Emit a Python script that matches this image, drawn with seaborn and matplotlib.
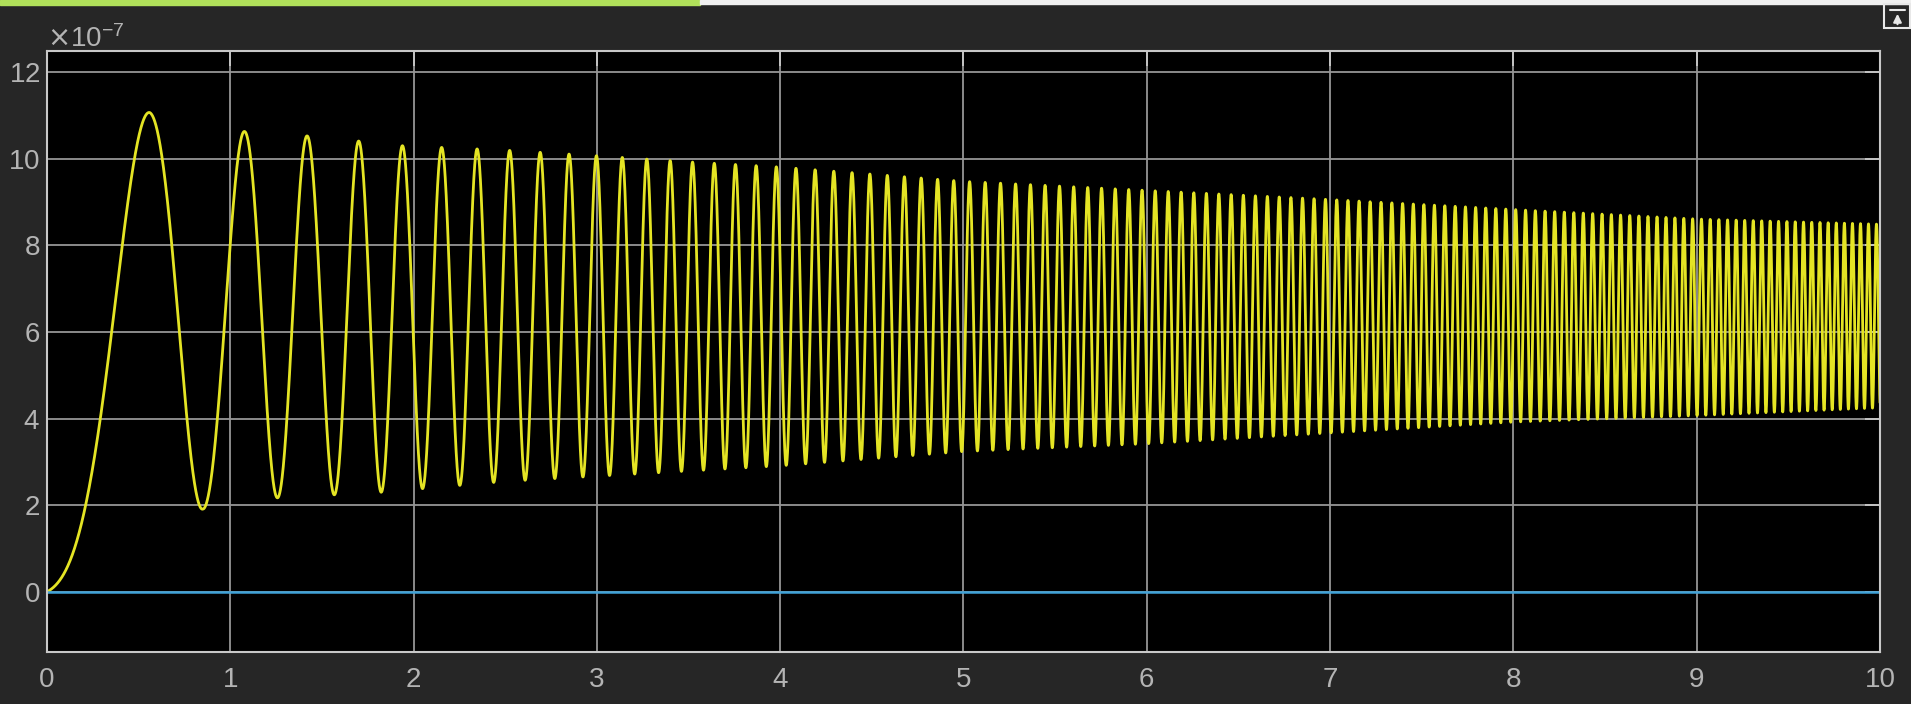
import numpy as np
import pandas as pd
import seaborn as sns
import matplotlib.pyplot as plt
from matplotlib.patches import Rectangle
from matplotlib.lines import Line2D

# values, in units of 1e-7
# local oscillation frequency (cycles per second) at read positions
freq_t = [0.0, 0.56, 0.71, 0.97, 1.17, 1.34, 1.49, 1.63, 1.76, 2.05, 2.44, 2.92, 3.46, 3.93, 5.5, 7.5, 8.5, 9.5, 10.0]
freq_hz = [0.4, 1.4, 1.73, 2.18, 2.82, 3.1, 3.33, 3.76, 4.07, 4.67, 5.65, 6.67, 8.2, 9.09, 12.75, 17.35, 19.7, 22.0, 23.1]

# peaks (upper envelope) and troughs (lower envelope)
upper_t = [0.561, 1.079, 1.417, 1.700, 1.945, 2.5, 3.0, 3.5, 4.0, 5.0, 6.0, 7.0, 8.0, 9.0, 10.0]
upper_v = [11.07, 10.63, 10.53, 10.41, 10.30, 10.2, 10.07, 9.93, 9.81, 9.48, 9.27, 9.06, 8.83, 8.61, 8.49]
lower_t = [0.0, 0.850, 1.256, 1.567, 1.823, 2.5, 3.0, 3.5, 4.0, 5.0, 6.0, 7.0, 8.0, 9.0, 10.0]
lower_v = [0.0, 1.91, 2.17, 2.24, 2.30, 2.55, 2.67, 2.79, 2.91, 3.24, 3.42, 3.67, 3.92, 4.07, 4.25]

# second signal (blue) stays at zero
ref_t = [0.0, 10.0]
ref_v = [0.0, 0.0]

x_ticks = [0, 1, 2, 3, 4, 5, 6, 7, 8, 9, 10]
y_ticks = [0, 2, 4, 6, 8, 10, 12]
SCALE = 1e-7

# rebuild the trace between the read peaks/troughs
t = np.linspace(0, 10, 20001)
f = np.interp(t, freq_t, freq_hz)
cyc = np.concatenate([[0], np.cumsum((f[1:] + f[:-1]) / 2 * np.diff(t))])
hi = np.interp(t, upper_t, upper_v)
lo = np.interp(t, lower_t, lower_v)
y = lo + (hi - lo) * (1 - np.cos(2 * np.pi * cyc)) / 2

df = pd.DataFrame({"t": t, "y": y * SCALE})
ref = pd.DataFrame({"t": ref_t, "y": np.array(ref_v) * SCALE})

bg = "#262626"
txt = "#b4b4b4"
sns.set_style("dark", {"axes.facecolor": "black", "figure.facecolor": bg})
plt.rcParams["font.family"] = ["Liberation Sans", "DejaVu Sans"]
plt.rcParams["axes.unicode_minus"] = False

fig = plt.figure(figsize=(19.11, 7.04), dpi=100)
ax = fig.add_axes([47 / 1911, 1 - 652 / 704, 1833 / 1911, 601 / 704])

sns.lineplot(data=df, x="t", y="y", ax=ax, color="#e4e424", linewidth=2.0,
             estimator=None, sort=False)
sns.lineplot(data=ref, x="t", y="y", ax=ax, color="#3fa2d8", linewidth=1.8,
             estimator=None, sort=False)

ax.set_xlim(0, 10)
ax.set_ylim(-1.39e-7, 12.49e-7)
ax.set_xticks(x_ticks)
ax.set_yticks([v * SCALE for v in y_ticks])
ax.ticklabel_format(axis="y", style="sci", scilimits=(-7, -7), useMathText=True)
ax.set_xlabel("")
ax.set_ylabel("")

ax.grid(True, color="#969696", linewidth=1.3)
ax.set_axisbelow(True)
ax.tick_params(axis="both", which="both", direction="in", length=11, width=1.3,
               color="#c8c8c8", labelcolor=txt, labelsize=20,
               top=True, right=True)
ax.tick_params(axis="x", pad=11)
ax.tick_params(axis="y", pad=5)
for s in ax.spines.values():
    s.set_visible(True)
    s.set_color("#c8c8c8")
    s.set_linewidth(1.5)

off = ax.yaxis.get_offset_text()
off.set_fontsize(20)
off.set_color(txt)

# window chrome at the top of the screenshot
fig.patches.append(Rectangle((0, 1 - 5 / 704), 700 / 1911, 5 / 704,
                             transform=fig.transFigure, color="#b0e05a", zorder=5))
fig.patches.append(Rectangle((700 / 1911, 1 - 4 / 704), 1211 / 1911, 4 / 704,
                             transform=fig.transFigure, color="#f0f0f0", zorder=5))
fig.patches.append(Rectangle((1884 / 1911, 1 - 28 / 704), 26 / 1911, 24 / 704,
                             transform=fig.transFigure, fill=False,
                             edgecolor="#e8e8e8", linewidth=1.5, zorder=6))
fig.add_artist(Line2D([1890 / 1911, 1905 / 1911], [1 - 10 / 704, 1 - 10 / 704],
                      transform=fig.transFigure, color="#e8e8e8", linewidth=1.5))
ax.annotate("", xy=(1897.5 / 1911, 1 - 11 / 704), xytext=(1897.5 / 1911, 1 - 27 / 704),
            xycoords="figure fraction", textcoords="figure fraction",
            arrowprops=dict(arrowstyle="-|>", color="#e8e8e8", lw=1.5,
                            mutation_scale=12), annotation_clip=False)

fig.savefig("out.png", dpi=100, facecolor=bg)
